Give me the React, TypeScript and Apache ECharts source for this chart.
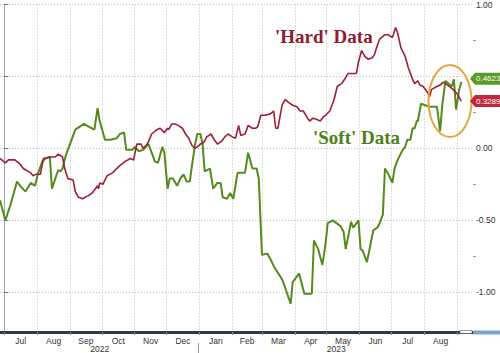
import React, { useEffect, useRef } from "react";
import * as echarts from "echarts";

// x values are days since 2022-07-01
const monthStarts = [0, 31, 62, 92, 123, 153, 184, 215, 243, 274, 304, 335, 365, 396, 427];
const monthNames = ["Jul", "Aug", "Sep", "Oct", "Nov", "Dec", "Jan", "Feb", "Mar", "Apr", "May", "Jun", "Jul", "Aug"];
const yearLabels = ["2022", "2023"];
const yearStarts = [-4, 184];
const xMin = -4;
const xMax = 442;
const yMin = -1.276;
const yMax = 1.0;
const yMajor = [-1, -0.5, 0, 0.5, 1];
const yMinor = [-0.75, -0.25, 0.25, 0.75];

const hardDays = [-4, 1, 4, 10, 15, 18, 25, 27, 30, 34, 37, 43, 48, 51, 55, 57, 60, 65, 67, 70, 74, 76, 79, 83, 86, 88, 89, 90, 93, 97, 102, 106, 109, 114, 119, 122, 125, 129, 131, 135, 139, 144, 147, 151, 154, 155, 158, 161, 164, 168, 171, 174, 177, 180, 182, 185, 188, 191, 195, 198, 201, 205, 208, 211, 215, 218, 221, 223, 227, 230, 234, 237, 239, 242, 246, 251, 254, 256, 258, 262, 265, 268, 272, 276, 279, 282, 286, 288, 291, 295, 298, 301, 303, 307, 311, 314, 318, 321, 324, 329, 332, 334, 337, 340, 343, 347, 349, 352, 354, 359, 362, 366, 369, 371, 374, 378, 381, 385, 387, 390, 392, 395, 399, 401, 403, 408, 411, 414, 418, 420, 423, 427, 431];
const hardValues = [-0.07, -0.10, -0.08, -0.08, -0.11, -0.14, -0.17, -0.19, -0.18, -0.18, -0.07, -0.06, -0.06, -0.04, -0.06, -0.14, -0.21, -0.22, -0.30, -0.34, -0.35, -0.34, -0.33, -0.31, -0.28, -0.26, -0.28, -0.24, -0.25, -0.19, -0.17, -0.14, -0.12, -0.09, -0.07, -0.08, 0.03, 0.03, 0.00, 0.03, 0.10, 0.13, 0.14, 0.11, 0.14, 0.13, 0.17, 0.17, 0.16, 0.14, 0.10, 0.07, 0.02, 0.00, 0.01, 0.03, 0.04, 0.08, 0.10, 0.06, 0.03, 0.05, 0.08, 0.10, 0.08, 0.07, 0.16, 0.09, 0.10, 0.16, 0.14, 0.14, 0.15, 0.23, 0.23, 0.24, 0.26, 0.14, 0.14, 0.30, 0.34, 0.32, 0.30, 0.29, 0.26, 0.26, 0.21, 0.19, 0.21, 0.20, 0.19, 0.22, 0.23, 0.26, 0.34, 0.43, 0.45, 0.48, 0.52, 0.52, 0.52, 0.60, 0.68, 0.64, 0.62, 0.63, 0.65, 0.72, 0.76, 0.79, 0.79, 0.77, 0.84, 0.80, 0.70, 0.64, 0.56, 0.48, 0.45, 0.47, 0.44, 0.43, 0.39, 0.36, 0.41, 0.43, 0.44, 0.46, 0.44, 0.43, 0.41, 0.38, 0.3289];

const softDays = [-4, 1, 6, 12, 15, 20, 25, 29, 32, 36, 39, 43, 45, 49, 51, 53, 55, 58, 61, 64, 67, 71, 75, 80, 85, 88, 90, 95, 100, 106, 109, 113, 115, 121, 123, 127, 131, 136, 139, 142, 145, 149, 151, 154, 156, 159, 163, 166, 169, 172, 175, 177, 180, 182, 185, 187, 189, 194, 197, 201, 204, 206, 210, 213, 216, 220, 227, 230, 234, 238, 240, 243, 248, 251, 255, 262, 265, 270, 272, 278, 283, 290, 292, 296, 300, 303, 305, 310, 317, 320, 322, 327, 329, 334, 336, 338, 342, 348, 352, 354, 357, 359, 363, 366, 368, 371, 375, 378, 380, 383, 385, 387, 389, 390, 393, 397, 401, 404, 408, 411, 413, 416, 419, 422, 424, 426, 429, 431];
const softValues = [-0.36, -0.50, -0.39, -0.23, -0.26, -0.30, -0.24, -0.26, -0.17, -0.09, -0.07, -0.06, -0.28, -0.19, -0.15, -0.16, -0.14, -0.05, 0.01, 0.07, 0.13, 0.15, 0.17, 0.15, 0.13, 0.28, 0.19, 0.06, 0.06, 0.07, 0.10, 0.11, -0.01, -0.01, 0.01, -0.02, -0.01, 0.03, -0.03, -0.09, -0.10, 0.01, -0.03, -0.28, -0.21, -0.21, -0.26, -0.21, -0.18, -0.23, -0.23, -0.12, 0.03, 0.10, 0.10, 0.03, -0.16, -0.14, -0.28, -0.24, -0.24, -0.34, -0.35, -0.31, -0.35, -0.17, -0.17, -0.03, -0.14, -0.14, -0.21, -0.74, -0.73, -0.77, -0.83, -0.91, -0.97, -1.08, -0.93, -0.87, -1.01, -1.01, -0.64, -0.70, -0.81, -0.66, -0.52, -0.50, -0.54, -0.58, -0.70, -0.51, -0.55, -0.50, -0.70, -0.71, -0.79, -0.57, -0.55, -0.52, -0.46, -0.14, -0.19, -0.24, -0.14, -0.08, -0.02, 0.01, 0.06, 0.06, 0.14, 0.14, 0.19, 0.19, 0.31, 0.30, 0.29, 0.29, 0.29, 0.12, 0.30, 0.47, 0.45, 0.43, 0.48, 0.27, 0.41, 0.4623];

const hardColor = "#9e1f35";
const softColor = "#558a1c";
const hardLabelColor = "#c1283d";
const softLabelColor = "#5c9a26";

export default function App() {
  const ref = useRef<HTMLDivElement>(null);
  useEffect(() => {
    if (!ref.current) return;
    const chart = echarts.init(ref.current, undefined, { renderer: "svg" });
    const monthMids = monthStarts.slice(0, -1).map((s, i) => (s + monthStarts[i + 1]) / 2);
    const font = "'Liberation Sans', Arial, sans-serif";
    chart.setOption({
      animation: false,
      backgroundColor: "#ffffff",
      grid: { left: 0, right: 27, top: 2, bottom: 21, containLabel: false },
      xAxis: {
        type: "value",
        min: xMin,
        max: xMax,
        axisLine: { show: true, onZero: false, lineStyle: { color: "#2c3a4b", width: 3 } },
        axisTick: { show: true, customValues: monthStarts, length: 3, lineStyle: { color: "#8a8a8a" } },
        axisLabel: {
          show: true,
          customValues: monthMids,
          formatter: (v: number) => {
            const i = monthMids.findIndex((m) => Math.abs(m - v) < 1e-6);
            return i >= 0 ? monthNames[i] : "";
          },
          fontSize: 8.5,
          color: "#333",
          margin: 4,
          fontFamily: font,
        },
        splitLine: { show: true, lineStyle: { color: "#bdbdbd", type: [1, 2], width: 1 } },
      },
      yAxis: [
        {
          type: "value",
          position: "right",
          min: yMin,
          max: yMax,
          axisLine: { show: true, lineStyle: { color: "#a5a5a5", width: 1 } },
          axisTick: { show: true, customValues: yMajor, length: 4, lineStyle: { color: "#777" } },
          axisLabel: {
            show: true,
            customValues: yMajor,
            formatter: (v: number) => v.toFixed(2),
            fontSize: 8.5,
            color: "#333",
            margin: 3,
            fontFamily: font,
          },
          splitLine: { show: true, lineStyle: { color: "#bdbdbd", type: [1, 2], width: 1 } },
        },
        {
          type: "value",
          position: "right",
          min: yMin,
          max: yMax,
          axisLine: { show: false },
          axisTick: { show: true, customValues: yMinor, length: 3, lineStyle: { color: "#999" } },
          axisLabel: { show: false },
          splitLine: { show: false },
        },
      ],
      series: [
        {
          type: "line",
          name: "Soft",
          data: softDays.map((d, i) => [d, softValues[i]]),
          showSymbol: false,
          lineStyle: { color: softColor, width: 2 },
          z: 2,
        },
        {
          type: "line",
          name: "Hard",
          data: hardDays.map((d, i) => [d, hardValues[i]]),
          showSymbol: false,
          lineStyle: { color: hardColor, width: 1.6 },
          z: 3,
        },
      ],
    });

    const toPx = (x: number, y: number) =>
      chart.convertToPixel({ xAxisIndex: 0, yAxisIndex: 0 }, [x, y]) as number[];
    const right = toPx(xMax, 0)[0];
    const lastSoft = softValues[softValues.length - 1];
    const lastHard = hardValues[hardValues.length - 1];
    const ySoft = toPx(0, lastSoft)[1] - 3;
    const yHard = toPx(0, lastHard)[1];
    const bottomY = toPx(0, yMin)[1];

    const valueTag = (y: number, color: string, text: string) => [
      {
        type: "polygon",
        z: 100,
        shape: {
          points: [
            [right - 3, y],
            [right + 2, y - 6],
            [500, y - 6],
            [500, y + 6],
            [right + 2, y + 6],
          ],
        },
        style: { fill: color },
      },
      {
        type: "text",
        z: 101,
        x: right + 3,
        y: y,
        style: {
          text,
          fill: "#ffffff",
          fontSize: 8,
          fontFamily: font,
          textVerticalAlign: "middle",
          textAlign: "left",
        },
      },
    ];

    const yearGraphics: any[] = yearLabels.map((lab, i) => {
      const a = Math.max(yearStarts[i], xMin);
      const b = i + 1 < yearStarts.length ? yearStarts[i + 1] : xMax;
      return {
        type: "text",
        z: 100,
        x: (toPx(a, 0)[0] + toPx(b, 0)[0]) / 2,
        y: 349,
        style: {
          text: lab,
          fill: "#333",
          fontSize: 8.5,
          fontFamily: font,
          textAlign: "center",
          textVerticalAlign: "middle",
        },
      };
    });
    const sepX = Math.round(toPx(yearStarts[1], 0)[0]) - 0.5;

    chart.setOption({
      graphic: [
        ...yearGraphics,
        {
          type: "line",
          z: 100,
          shape: { x1: sepX, y1: 343, x2: sepX, y2: 353 },
          style: { stroke: "#999", lineWidth: 1 },
        },
        {
          type: "rect",
          z: 100,
          shape: { x: right, y: bottomY - 1.5, width: 500 - right, height: 4 },
          style: { fill: "#7fa6c8" },
        },
        {
          type: "rect",
          z: 100,
          shape: { x: right - 13, y: bottomY - 1.5, width: 12, height: 3 },
          style: { fill: "#ffffff", stroke: "#2c3a4b", lineWidth: 0.5 },
        },
        {
          type: "text",
          z: 100,
          x: 275,
          y: 36,
          style: {
            text: "'Hard' Data",
            fill: "#8e1c30",
            fontSize: 19,
            fontWeight: "bold",
            fontFamily: "'Liberation Serif', 'Times New Roman', serif",
            textVerticalAlign: "middle",
          },
        },
        {
          type: "text",
          z: 100,
          x: 313,
          y: 137,
          style: {
            text: "'Soft' Data",
            fill: "#4f7f18",
            fontSize: 19,
            fontWeight: "bold",
            fontFamily: "'Liberation Serif', 'Times New Roman', serif",
            textVerticalAlign: "middle",
          },
        },
        {
          type: "ellipse",
          z: 99,
          shape: { cx: 450, cy: 101, rx: 21.5, ry: 36 },
          style: { fill: "none", stroke: "#e6a545", lineWidth: 2 },
        },
        ...valueTag(ySoft, softLabelColor, lastSoft.toFixed(4)),
        ...valueTag(yHard, hardLabelColor, lastHard.toFixed(4)),
      ],
    });

    return () => chart.dispose();
  }, []);
  return (
    <div
      ref={ref}
      style={{ position: "fixed", left: 0, top: 0, width: 500, height: 353, background: "#fff" }}
    />
  );
}
